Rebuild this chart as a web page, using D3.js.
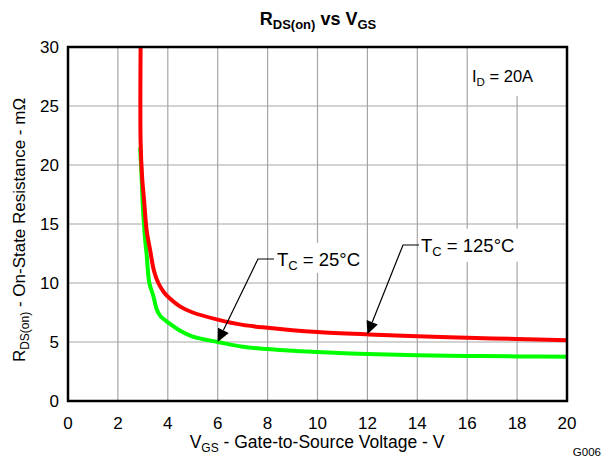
<!DOCTYPE html>
<html>
<head>
<meta charset="utf-8">
<script src="https://cdn.jsdelivr.net/npm/d3@7"></script>
<style>
  body { margin: 0; background: #fff; }
  svg text { font-family: Arial, "Liberation Sans", sans-serif; fill: #000; }
</style>
</head>
<body>
<div id="chart"></div>
<script>
(function(d3) {

  'use strict';

  // Tc = 125C curve (VGS, RDS(on) mOhm)
  var hotVgs = [2.91, 2.91, 2.97, 3.05, 3.15, 3.29, 3.45, 3.62, 3.85, 4.05, 4.5, 5, 6, 7, 8, 9, 10, 12, 14, 16, 18, 20];
  var hotRds = [30, 22, 19, 17, 14.5, 12.8, 11, 10, 9.2, 8.75, 8.0, 7.5, 6.9, 6.45, 6.2, 6.0, 5.85, 5.65, 5.48, 5.36, 5.25, 5.15];

  // Tc = 25C curve
  var coldVgs = [2.89, 2.95, 3.0, 3.1, 3.15, 3.26, 3.42, 3.55, 3.7, 4.05, 4.5, 5, 6, 7, 8, 9, 10, 12, 14, 16, 18, 20];
  var coldRds = [21.5, 19, 16.5, 13.5, 12.5, 10, 8.9, 7.8, 7.2, 6.6, 5.95, 5.45, 5.0, 4.6, 4.4, 4.25, 4.15, 3.98, 3.88, 3.82, 3.78, 3.75];

  var xTicks = [0, 2, 4, 6, 8, 10, 12, 14, 16, 18, 20];
  var yTicks = [0, 5, 10, 15, 20, 25, 30];

  var width = 603, height = 459;
  var margin = { top: 47, right: 36, bottom: 58, left: 68 };

  var svg = d3.select('#chart')
    .append('svg')
    .attr('width', width)
    .attr('height', height);

  var x = d3.scaleLinear().domain([0, 20]).range([margin.left, width - margin.right]);
  var y = d3.scaleLinear().domain([0, 30]).range([height - margin.bottom, margin.top]);

  // grid
  svg.append('g')
    .selectAll('line')
    .data(xTicks.slice(1, -1))
    .enter()
    .append('line')
    .attr('x1', function(d) { return x(d); })
    .attr('x2', function(d) { return x(d); })
    .attr('y1', y(0))
    .attr('y2', y(30))
    .style('stroke', '#a6a6a6')
    .style('stroke-width', 1.2);

  svg.append('g')
    .selectAll('line')
    .data(yTicks.slice(1, -1))
    .enter()
    .append('line')
    .attr('x1', x(0))
    .attr('x2', x(20))
    .attr('y1', function(d) { return y(d); })
    .attr('y2', function(d) { return y(d); })
    .style('stroke', '#a6a6a6')
    .style('stroke-width', 1.2);

  // white boxes behind labels
  var boxes = [
    [x(16.05), y(30), x(19.9) - x(16.05), 49],
    [x(8.3), y(13.4), x(11.8) - x(8.3), 30],
    [x(14.05), y(14.6), x(18.3) - x(14.05), 33]
  ];
  svg.append('g')
    .selectAll('rect')
    .data(boxes)
    .enter()
    .append('rect')
    .attr('x', function(d) { return d[0]; })
    .attr('y', function(d) { return d[1]; })
    .attr('width', function(d) { return d[2]; })
    .attr('height', function(d) { return d[3]; })
    .style('fill', '#fff');

  // curves
  var line = d3.line()
    .curve(d3.curveCatmullRom.alpha(0.5))
    .x(function(d) { return x(d[0]); })
    .y(function(d) { return y(d[1]); });

  var cold = d3.zip(coldVgs, coldRds);
  var hot = d3.zip(hotVgs, hotRds);

  svg.append('path')
    .datum(cold)
    .attr('d', line)
    .style('fill', 'none')
    .style('stroke', '#00ff00')
    .style('stroke-width', 4)
    .style('stroke-linejoin', 'round');

  svg.append('path')
    .datum(hot)
    .attr('d', line)
    .style('fill', 'none')
    .style('stroke', '#ff0000')
    .style('stroke-width', 4)
    .style('stroke-linejoin', 'round');

  // border
  svg.append('rect')
    .attr('x', x(0))
    .attr('y', y(30))
    .attr('width', x(20) - x(0))
    .attr('height', y(0) - y(30))
    .style('fill', 'none')
    .style('stroke', '#000')
    .style('stroke-width', 2.5);

  // tick labels
  svg.append('g')
    .selectAll('text')
    .data(xTicks)
    .enter()
    .append('text')
    .attr('x', function(d) { return x(d); })
    .attr('y', 429)
    .attr('text-anchor', 'middle')
    .style('font-size', '17px')
    .text(function(d) { return d; });

  svg.append('g')
    .selectAll('text')
    .data(yTicks)
    .enter()
    .append('text')
    .attr('x', 59)
    .attr('y', function(d) { return y(d) + 6; })
    .attr('text-anchor', 'end')
    .style('font-size', '17px')
    .text(function(d) { return d; });

  // title
  var title = svg.append('text')
    .attr('x', 318)
    .attr('y', 25)
    .attr('text-anchor', 'middle')
    .style('font-size', '18px')
    .style('font-weight', 'bold');
  title.append('tspan').text('R');
  title.append('tspan').attr('dy', 4).style('font-size', '13px').text('DS(on)');
  title.append('tspan').attr('dy', -4).text(' vs V');
  title.append('tspan').attr('dy', 4).style('font-size', '13px').text('GS');

  // x axis title
  var xt = svg.append('text')
    .attr('x', 317)
    .attr('y', 448)
    .attr('text-anchor', 'middle')
    .style('font-size', '17.5px');
  xt.append('tspan').text('V');
  xt.append('tspan').attr('dy', 4).style('font-size', '12px').text('GS');
  xt.append('tspan').attr('dy', -4).text(' - Gate-to-Source Voltage - V');

  // y axis title
  var yt = svg.append('text')
    .attr('transform', 'translate(25,' + 230 + ') rotate(-90)')
    .attr('text-anchor', 'middle')
    .style('font-size', '17px');
  yt.append('tspan').text('R');
  yt.append('tspan').attr('dy', 4).style('font-size', '12px').text('DS(on)');
  yt.append('tspan').attr('dy', -4).text(' - On-State Resistance - m\u03A9');

  // G006
  svg.append('text')
    .attr('x', 601)
    .attr('y', 456)
    .attr('text-anchor', 'end')
    .style('font-size', '11.5px')
    .text('G006');

  // ID label
  var id = svg.append('text')
    .attr('x', 472)
    .attr('y', 82)
    .style('font-size', '16.5px');
  id.append('tspan').text('I');
  id.append('tspan').attr('dy', 4).style('font-size', '11.5px').text('D');
  id.append('tspan').attr('dy', -4).text(' = 20A');

  // annotations
  var notes = [
    { label: '25\u00B0C', tx: 277, ty: 266, elbow: [258, 259], hx: 274, at: [6, 5.0] },
    { label: '125\u00B0C', tx: 421, ty: 252, elbow: [403, 245], hx: 419, at: [12, 5.65] }
  ];

  notes.forEach(function(n) {
    var tip = [x(n.at[0]), y(n.at[1])];
    var dx = tip[0] - n.elbow[0], dy = tip[1] - n.elbow[1];
    var len = Math.sqrt(dx * dx + dy * dy);
    var ux = dx / len, uy = dy / len;
    var headLen = 13, headW = 6;
    var base = [tip[0] - ux * headLen, tip[1] - uy * headLen];

    svg.append('polyline')
      .attr('points', [[n.hx, n.elbow[1]], n.elbow, base].map(function(p) { return p.join(','); }).join(' '))
      .style('fill', 'none')
      .style('stroke', '#000')
      .style('stroke-width', 1.2);

    svg.append('polygon')
      .attr('points', [
        tip,
        [base[0] - uy * headW, base[1] + ux * headW],
        [base[0] + uy * headW, base[1] - ux * headW]
      ].map(function(p) { return p.join(','); }).join(' '))
      .style('fill', '#000');

    var t = svg.append('text')
      .attr('x', n.tx)
      .attr('y', n.ty)
      .style('font-size', '18.5px');
    t.append('tspan').text('T');
    t.append('tspan').attr('dy', 4).style('font-size', '13px').text('C');
    t.append('tspan').attr('dy', -4).text(' = ' + n.label);
  });

})(d3);
</script>
</body>
</html>
